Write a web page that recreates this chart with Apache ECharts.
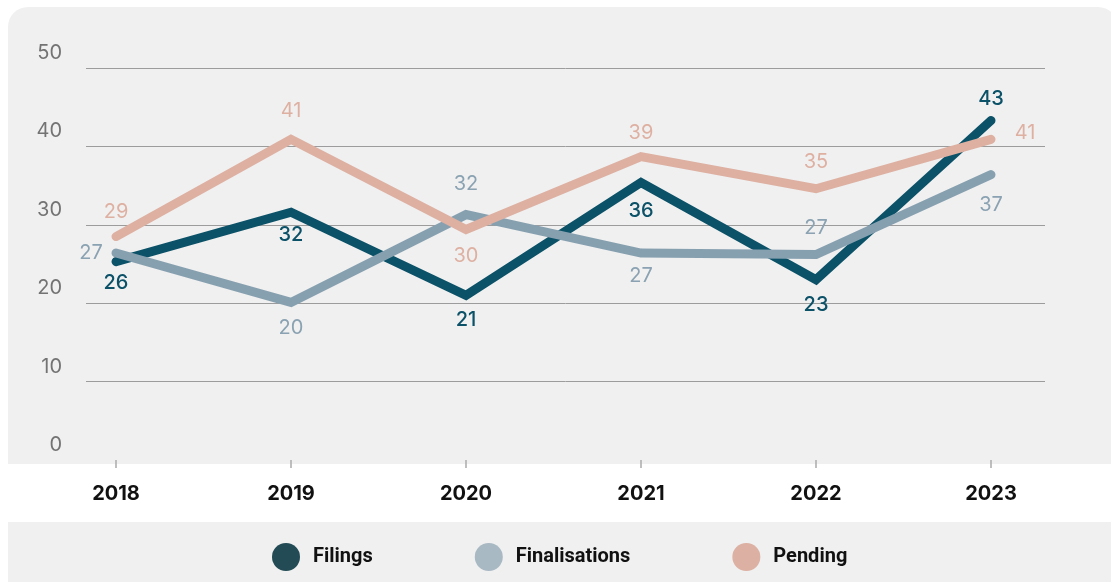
<!DOCTYPE html>
<html>
<head>
<meta charset="utf-8">
<style>
html,body{margin:0;padding:0;background:#fff;}
#chart{width:1111px;height:582px;}
</style>
<script src="https://cdn.jsdelivr.net/npm/echarts@6/dist/echarts.min.js"></script>
</head>
<body>
<div id="chart"></div>
<script>
// ---- data ----
const years = ['2018', '2019', '2020', '2021', '2022', '2023'];
const filings = [25.3, 31.6, 21.0, 35.4, 23.0, 43.3];
const finalisations = [26.4, 20.1, 31.3, 26.4, 26.2, 36.4];
const pending = [28.5, 40.9, 29.4, 38.7, 34.6, 40.9];
const filingsLabels = [26, 32, 21, 36, 23, 43];
const finalisationsLabels = [27, 20, 32, 27, 27, 37];
const pendingLabels = [29, 41, 30, 39, 35, 41];
const yTicks = [0, 10, 20, 30, 40, 50];

// ---- label offsets (styling) ----
const filingsOff = [[0, 21], [0, 23], [0, 25], [0, 29], [0, 25], [0, -22]];
const finalOff = [[-25, 0], [0, 26], [0, -31], [0, 23], [0, -27], [0, 30]];
const pendingOff = [[0, -25], [0, -28], [0, 26], [0, -24], [0, -27], [34, -6]];

const chart = echarts.init(document.getElementById('chart'), null, {renderer: 'canvas'});

function mkData(vals, labels, offs, color, weight) {
  return vals.map((v, i) => ({
    value: v,
    label: {
      show: true,
      position: 'inside',
      offset: offs[i],
      formatter: String(labels[i]),
      color: color,
      fontFamily: 'Inter',
      fontSize: 20,
      fontWeight: weight
    }
  }));
}

function mkSeries(name, vals, labels, offs, lineColor, labelColor, weight) {
  return {
    name: name,
    type: 'line',
    xAxisIndex: 0,
    yAxisIndex: 0,
    data: mkData(vals, labels, offs, labelColor, weight),
    symbol: 'circle',
    symbolSize: 1,
    showSymbol: true,
    itemStyle: {color: lineColor},
    lineStyle: {color: lineColor, width: 9, cap: 'round', join: 'miter'},
    emphasis: {disabled: true},
    animation: false,
    z: 3
  };
}

const option = {
  animation: false,
  textStyle: {fontFamily: 'Inter'},
  graphic: [
    {type: 'rect', z: -10, shape: {x: 8, y: 7, width: 1110, height: 457, r: [20, 20, 0, 0]}, style: {fill: '#f0f0f0'}, silent: true},
    {type: 'rect', z: -10, shape: {x: 8, y: 522, width: 1110, height: 70}, style: {fill: '#f0f0f0'}, silent: true}
  ],
  legend: {
    left: 267,
    top: 538,
    itemWidth: 28,
    itemHeight: 28,
    itemGap: 102,
    icon: 'circle',
    selectedMode: false,
    textStyle: {fontFamily: 'Roboto', fontWeight: 'bold', fontSize: 20, color: '#111', padding: [0, 0, 0, 8]},
    data: [
      {name: 'Filings', itemStyle: {color: '#234b55'}},
      {name: 'Finalisations', itemStyle: {color: '#a8b9c3'}},
      {name: 'Pending', itemStyle: {color: '#dcb0a2'}}
    ]
  },
  grid: [
    {left: 28.5, right: 32.5, top: 68, bottom: 122},
    {left: 86, right: 66, top: 68, bottom: 122}
  ],
  xAxis: [
    {
      type: 'category', gridIndex: 0, data: years, boundaryGap: true,
      offset: 4,
      axisLine: {show: false},
      axisTick: {show: true, length: 8, alignWithLabel: true, lineStyle: {color: '#aaaaaa', width: 1.5}},
      axisLabel: {margin: 20, color: '#111', fontFamily: 'Inter', fontWeight: 'bold', fontSize: 20},
      splitLine: {show: false}
    },
    {type: 'value', gridIndex: 1, show: false, min: 0, max: 1}
  ],
  yAxis: [
    {type: 'value', gridIndex: 0, min: yTicks[0], max: yTicks[yTicks.length - 1], interval: 10, show: false},
    {
      type: 'value', gridIndex: 1, min: yTicks[0], max: yTicks[yTicks.length - 1], interval: 10,
      axisLine: {show: false}, axisTick: {show: false},
      axisLabel: {margin: 24, color: '#737373', fontFamily: 'Inter', fontSize: 20, verticalAlign: 'bottom', lineHeight: 20, padding: [0, 0, 5, 0]},
      splitLine: {show: true, lineStyle: {color: ['rgba(0,0,0,0)', '#9c9c9c', '#9c9c9c', '#9c9c9c', '#9c9c9c', '#9c9c9c'], width: 1}}
    }
  ],
  series: [
    mkSeries('Filings', filings, filingsLabels, filingsOff, '#0b5168', '#0b5168', 500),
    mkSeries('Finalisations', finalisations, finalisationsLabels, finalOff, '#87a0b0', '#8aa2b2', 400),
    mkSeries('Pending', pending, pendingLabels, pendingOff, '#ddb0a2', '#deb0a2', 400)
  ]
};
chart.setOption(option);
</script>
</body>
</html>
